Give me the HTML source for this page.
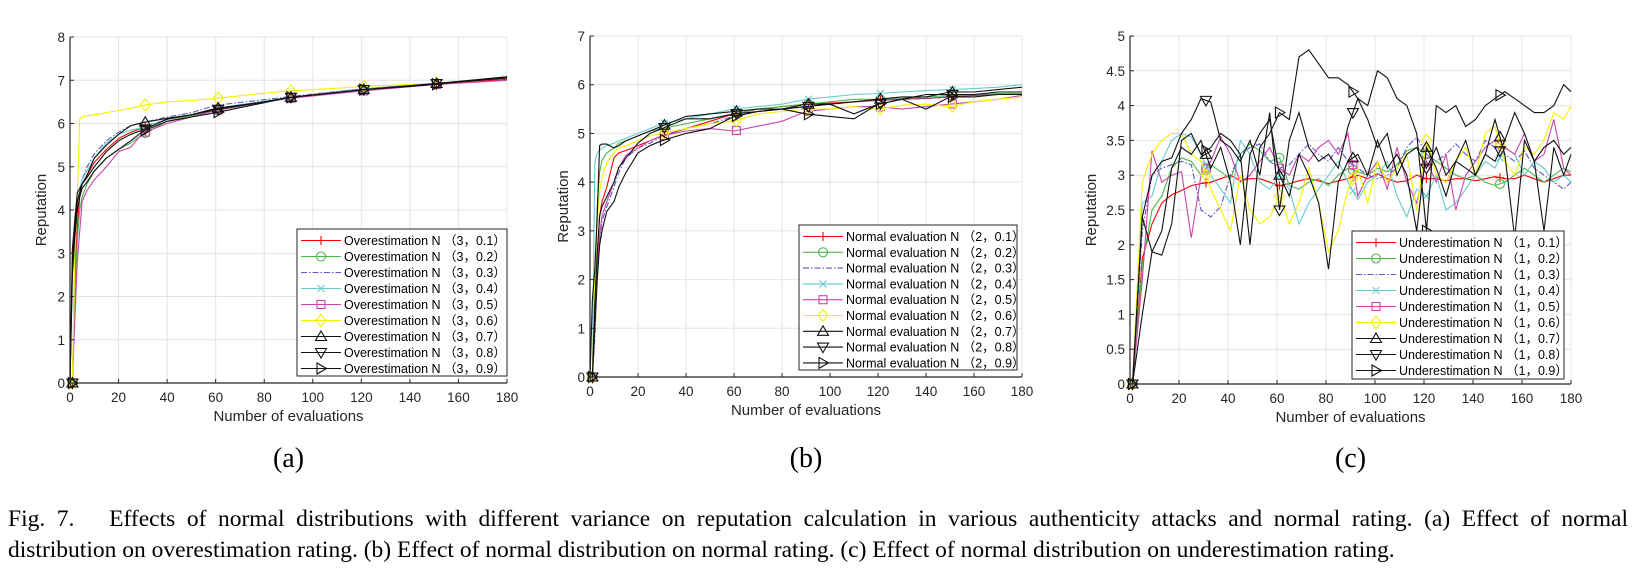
<!DOCTYPE html>
<html><head><meta charset="utf-8">
<style>
html,body{margin:0;padding:0;background:#fff;}
body{width:1644px;height:569px;position:relative;overflow:hidden;}
svg{position:absolute;left:0;top:0;}
.cap{position:absolute;left:8px;width:1620px;font-family:"Liberation Serif",serif;font-size:23.5px;color:#000;line-height:31px;white-space:nowrap;}
</style></head>
<body>
<svg id="fig" width="1644" height="569" xmlns="http://www.w3.org/2000/svg"></svg>
<div class="cap" style="top:504px;text-align:justify;text-align-last:justify;white-space:normal;">Fig. 7.&nbsp;&nbsp; Effects of normal distributions with different variance on reputation calculation in various authenticity attacks and normal rating. (a) Effect of normal</div>
<div class="cap" style="top:535px;">distribution on overestimation rating. (b) Effect of normal distribution on normal rating. (c) Effect of normal distribution on underestimation rating.</div>
<script>
// ---------- data ----------
const xTicks = [0,20,40,60,80,100,120,140,160,180];
const yTicksA = [0,1,2,3,4,5,6,7,8];
const yTicksB = [0,1,2,3,4,5,6,7];
const yTicksC = [0,0.5,1,1.5,2,2.5,3,3.5,4,4.5,5];
const markerX = [31,61,91,121,151];
const varianceLabels = ["0.1","0.2","0.3","0.4","0.5","0.6","0.7","0.8","0.9"];

const xA = [0,1,2,3,4,5,7,10,15,20,25,30,40,50,60,80,90,120,150,180];
const aS1 = [0,0,2.5,3.6,4.3,4.6,4.8,5.1,5.4,5.65,5.8,5.9,6.1,6.2,6.35,6.5,6.6,6.78,6.92,7.02];
const aS2 = [0,0,2.0,3.3,4.0,4.3,4.6,4.9,5.2,5.4,5.55,5.75,6.05,6.18,6.3,6.5,6.58,6.78,6.92,7.05];
const aS3 = [0,0,3.0,4.0,4.4,4.7,5.0,5.3,5.6,5.8,5.95,6.02,6.15,6.25,6.42,6.55,6.62,6.8,6.92,7.05];
const aS4 = [0,0,3.2,4.1,4.5,4.7,4.9,5.2,5.55,5.75,5.85,5.9,6.1,6.2,6.35,6.52,6.6,6.8,6.93,7.05];
const aS5 = [0,0,1.5,2.8,3.5,4.2,4.45,4.7,5.0,5.35,5.45,5.78,6.0,6.15,6.3,6.5,6.58,6.75,6.9,7.0];
const aS6 = [0,0,3.0,4.3,6.1,6.15,6.18,6.2,6.25,6.3,6.35,6.42,6.5,6.53,6.58,6.7,6.75,6.85,6.93,7.05];
const aS7 = [0,3.1,3.8,4.4,4.5,4.6,4.8,5.2,5.5,5.75,5.95,6.02,6.12,6.2,6.35,6.5,6.6,6.78,6.92,7.08];
const aS8 = [0,2.8,3.6,4.2,4.4,4.6,4.75,5.0,5.35,5.6,5.75,5.85,6.1,6.2,6.32,6.5,6.6,6.78,6.92,7.05];
const aS9 = [0,2.5,3.4,4.0,4.3,4.5,4.65,4.9,5.2,5.4,5.6,5.82,6.05,6.15,6.25,6.48,6.6,6.78,6.9,7.08];

const xB = [0,1,2,3,4,5,7,10,12,15,20,25,30,40,50,60,70,80,90,100,110,120,130,140,150,160,170,180];
const bS1 = [0,0,1.2,2.5,3.3,3.6,3.9,4.5,4.6,4.65,4.75,4.85,4.95,5.1,5.25,5.4,5.5,5.55,5.6,5.62,5.65,5.68,5.7,5.72,5.75,5.78,5.8,5.8];
const bS2 = [0,0,1.5,3.5,4.2,4.45,4.6,4.7,4.8,4.85,4.95,5.05,5.1,5.2,5.3,5.4,5.5,5.55,5.6,5.65,5.7,5.7,5.72,5.75,5.78,5.8,5.82,5.82];
const bS3 = [0,0,0.8,2.0,2.8,3.2,3.5,3.9,4.2,4.5,4.7,4.8,4.95,5.1,5.2,5.35,5.45,5.5,5.55,5.6,5.65,5.68,5.7,5.72,5.75,5.78,5.8,5.8];
const bS4 = [0,0,4.4,4.6,4.65,4.7,4.75,4.8,4.85,4.9,5.0,5.1,5.2,5.3,5.4,5.5,5.55,5.6,5.7,5.75,5.8,5.82,5.85,5.88,5.9,5.92,5.95,6.0];
const bS5 = [0,0,1.0,2.2,2.9,3.3,3.6,4.0,4.3,4.55,4.7,4.85,4.95,5.05,5.1,5.05,5.15,5.25,5.45,5.5,5.55,5.55,5.5,5.55,5.6,5.65,5.7,5.78];
const bS6 = [0,0,2.0,3.2,3.8,4.1,4.4,4.6,4.7,4.75,4.85,4.95,5.0,5.1,5.2,5.25,5.4,5.45,5.5,5.5,5.55,5.5,5.58,5.6,5.55,5.65,5.7,5.75];
const bS7 = [0,1.6,2.2,3.3,4.75,4.78,4.78,4.7,4.75,4.85,4.95,5.05,5.15,5.35,5.4,5.45,5.5,5.5,5.6,5.6,5.65,5.7,5.75,5.75,5.85,5.85,5.9,5.95];
const bS8 = [0,0,1.5,2.5,3.3,3.5,3.7,4.0,4.3,4.5,4.8,5.0,5.1,5.3,5.3,5.4,5.45,5.5,5.55,5.6,5.4,5.6,5.7,5.8,5.8,5.8,5.85,5.85];
const bS9 = [0,0,1.0,2.0,2.7,3.0,3.4,3.6,3.9,4.2,4.6,4.75,4.85,5.0,5.1,5.35,5.45,5.5,5.4,5.35,5.3,5.6,5.7,5.5,5.75,5.75,5.8,5.8];

const xC = [0,1,5,9,13,17,21,25,29,33,37,41,45,49,53,57,61,65,69,73,77,81,85,89,93,97,101,105,109,113,117,121,125,129,133,137,141,145,149,153,157,161,165,169,173,177,180];
const cS1 = [0,0,1.8,2.3,2.6,2.72,2.78,2.85,2.88,2.9,2.95,3.0,2.92,2.95,2.95,2.9,2.85,2.88,2.92,2.95,2.92,2.88,2.92,2.95,3.0,2.95,3.02,2.95,2.9,2.92,3.0,2.95,2.95,2.92,2.95,2.95,2.92,2.95,2.98,2.95,2.95,3.0,2.95,2.9,2.95,3.0,3.0];
const cS2 = [0,0,1.7,2.5,2.7,3.1,3.25,3.2,3.0,3.15,3.05,2.95,3.3,3.45,3.35,3.2,3.25,2.85,2.8,2.9,2.95,2.85,3.0,3.1,3.05,3.0,3.1,3.05,3.15,3.35,3.4,3.3,3.2,3.1,3.0,2.95,3.0,2.9,2.85,2.9,3.0,3.1,3.0,2.9,3.0,3.1,3.05];
const cS3 = [0,0,2.2,3.0,3.1,3.15,3.2,3.15,2.5,2.4,2.55,3.0,3.3,3.4,3.45,3.2,3.1,3.15,3.3,3.45,3.3,3.2,3.4,3.2,3.1,3.0,2.95,3.0,3.1,3.4,3.55,3.3,3.2,3.3,3.45,3.3,3.2,3.5,3.4,3.3,3.2,3.35,3.1,3.0,2.9,2.8,2.9];
const cS4 = [0,0,2.6,2.7,3.2,3.5,3.6,3.55,3.3,3.0,2.8,2.6,3.5,3.3,2.9,2.8,3.0,2.8,2.3,2.6,2.8,3.0,3.2,2.9,2.65,2.9,3.0,3.2,2.7,2.4,2.8,2.7,3.0,2.5,2.6,2.8,3.0,3.2,3.1,3.4,3.3,3.0,3.2,3.1,2.9,3.0,2.9];
const cS5 = [0,0,1.5,3.35,2.9,3.0,3.05,2.1,3.0,3.2,3.55,3.3,2.9,3.0,3.2,3.4,3.1,3.0,3.3,3.2,3.4,3.5,3.3,3.6,2.7,3.0,3.2,2.8,3.4,2.9,2.6,3.2,2.9,3.3,2.5,3.0,3.2,3.4,3.5,3.4,3.3,3.6,3.2,3.3,3.8,3.1,3.0];
const cS6 = [0,0,2.9,3.3,3.5,3.6,3.6,3.3,3.2,2.8,2.5,2.2,3.0,2.5,2.3,2.4,2.7,2.3,2.6,3.1,2.6,1.9,2.2,2.8,3.1,2.6,3.2,2.9,3.1,3.3,2.5,3.5,3.0,2.9,3.2,3.4,3.0,3.6,3.7,3.2,3.0,3.4,3.3,3.5,3.9,3.8,4.0];
const cS7 = [0,0,2.4,1.9,2.2,3.1,3.4,3.3,3.5,3.1,3.4,2.9,2.0,3.3,3.6,3.8,3.0,2.7,3.3,3.0,2.6,1.65,2.9,3.2,3.3,3.0,3.5,3.1,3.3,3.0,2.2,3.4,3.1,2.7,3.2,3.1,3.0,3.3,3.8,3.3,2.1,3.5,3.2,2.2,3.4,3.0,3.3];
const cS8 = [0,0,2.4,3.0,3.2,3.25,3.6,3.8,4.1,4.05,3.5,3.4,3.2,3.5,3.0,3.9,2.5,3.5,3.9,3.4,3.2,3.3,3.1,3.7,4.1,3.8,3.4,3.6,3.0,3.3,3.4,3.1,3.4,3.0,3.2,3.5,3.0,3.3,3.2,3.5,3.9,3.6,3.2,3.4,3.5,3.3,3.4];
const cS9 = [0,0,1.0,1.9,1.85,2.3,3.5,3.6,3.3,3.4,3.6,3.5,3.3,2.0,3.4,3.6,3.9,3.8,4.7,4.8,4.6,4.4,4.4,4.3,4.1,4.0,4.5,4.4,4.1,4.0,3.6,2.2,4.0,3.9,4.0,3.7,3.8,4.0,4.1,4.2,4.1,4.0,3.9,3.9,4.0,4.3,4.2];

// ---------- rendering ----------
const NS = "http://www.w3.org/2000/svg";
const svg = document.getElementById('fig');
const colors = ["#ff0000","#4db84d","#5a5ac8","#66cccc","#cc44aa","#f2f200","#111111","#111111","#111111"];
const markers = ["plus","circle","none","x","square","diamond","tri-up","tri-down","tri-right"];
const seriesNames = ["variance-0-1","variance-0-2","variance-0-3","variance-0-4","variance-0-5","variance-0-6","variance-0-7","variance-0-8","variance-0-9"];
const FONT = "Liberation Sans, sans-serif";

function mk(tag, attrs, parent){
  const e = document.createElementNS(NS, tag);
  for (const k in attrs) e.setAttribute(k, attrs[k]);
  (parent||svg).appendChild(e);
  return e;
}
function interp(xs, ys, x){
  const n = Math.min(xs.length, ys.length);
  for (let i=1;i<n;i++){ if (x<=xs[i]){ const t=(x-xs[i-1])/(xs[i]-xs[i-1]); return ys[i-1]+t*(ys[i]-ys[i-1]); } }
  return ys[n-1];
}
function drawMarker(g, type, cx, cy, col){
  const s=4.5; let e;
  const st={fill:"none",stroke:col,"stroke-width":1.1};
  if(type==="plus") e=mk('path',Object.assign({d:`M${cx-s} ${cy}H${cx+s}M${cx} ${cy-s}V${cy+s}`},st),g);
  else if(type==="x") e=mk('path',Object.assign({d:`M${cx-3.5} ${cy-3.5}L${cx+3.5} ${cy+3.5}M${cx-3.5} ${cy+3.5}L${cx+3.5} ${cy-3.5}`},st),g);
  else if(type==="circle") e=mk('circle',Object.assign({cx:cx,cy:cy,r:s},st),g);
  else if(type==="square") e=mk('rect',Object.assign({x:cx-s+0.5,y:cy-s+0.5,width:2*s-1,height:2*s-1},st),g);
  else if(type==="diamond") e=mk('path',Object.assign({d:`M${cx} ${cy-6}L${cx+5} ${cy}L${cx} ${cy+6}L${cx-5} ${cy}Z`},st),g);
  else if(type==="tri-up") e=mk('path',Object.assign({d:`M${cx} ${cy-5.5}L${cx+5.5} ${cy+4}L${cx-5.5} ${cy+4}Z`},st),g);
  else if(type==="tri-down") e=mk('path',Object.assign({d:`M${cx} ${cy+5.5}L${cx+5.5} ${cy-4}L${cx-5.5} ${cy-4}Z`},st),g);
  else if(type==="tri-right") e=mk('path',Object.assign({d:`M${cx+5.5} ${cy}L${cx-4} ${cy-5.5}L${cx-4} ${cy+5.5}Z`},st),g);
  if(e){
    
    
  }
}

function panel(cfg){
  const {id,x0,x1,yTop,yBot,ymax,yTicks,xs,series,label,legend,sub,ylabX} = cfg;
  const g = mk('g',{});
  
  
  const sx = v => x0 + (v/180)*(x1-x0);
  const sy = v => yBot - (v/ymax)*(yBot-yTop);
  const grid = mk('g',{stroke:"#e4e4e4","stroke-width":1},g);
  
  
  xTicks.forEach(t=>{ if(t>0) mk('line',{x1:sx(t),x2:sx(t),y1:yTop,y2:yBot},grid); });
  yTicks.forEach(t=>{ if(t>0) mk('line',{x1:x0,x2:x1,y1:sy(t),y2:sy(t)},grid); });
  series.forEach((ys,i)=>{
    const n=Math.min(xs.length,ys.length);
    let d="";
    for(let k=0;k<n;k++) d+=(k?"L":"M")+sx(xs[k]).toFixed(1)+" "+sy(ys[k]).toFixed(1);
    const p = mk('path',{d:d,fill:"none",stroke:colors[i],"stroke-width":1.1,"stroke-dasharray":i===2?"6 2 1.5 2":"none"},g);
    
    
    if(markers[i]!=="none") markerX.forEach(mx=>drawMarker(g,markers[i],sx(mx),sy(interp(xs,ys,mx)),colors[i]));
    drawMarker(g,markers[i]==="none"?"circle":markers[i],sx(1),sy(0),colors[i]);
  });
  const ax = mk('path',{d:`M${x0} ${yTop}V${yBot}H${x1}`,fill:"none",stroke:"#262626","stroke-width":1.2},g);
  
  
  xTicks.forEach(t=>{
    mk('line',{x1:sx(t),x2:sx(t),y1:yBot,y2:yBot-4,stroke:"#262626"},g);
    const tx = mk('text',{x:sx(t),y:yBot+19,"text-anchor":"middle","font-size":13.5,fill:"#262626","font-family":FONT},g);
    tx.textContent=t;
    
    
  });
  yTicks.forEach(t=>{
    mk('line',{x1:x0,x2:x0+4,y1:sy(t),y2:sy(t),stroke:"#262626"},g);
    const tx = mk('text',{x:x0-5,y:sy(t)+5,"text-anchor":"end","font-size":13.5,fill:"#262626","font-family":FONT},g);
    tx.textContent=t;
    
    
  });
  const xt = mk('text',{x:(x0+x1)/2,y:yBot+38,"text-anchor":"middle","font-size":15,fill:"#262626","font-family":FONT},g);
  xt.textContent="Number of evaluations";
  
  
  const yc=(yTop+yBot)/2;
  const yt = mk('text',{x:ylabX,y:yc,"text-anchor":"middle","font-size":15,fill:"#262626","font-family":FONT,transform:`rotate(-90 ${ylabX} ${yc})`},g);
  yt.textContent="Reputation";
  
  
  const L = legend;
  const lg = mk('g',{},g);
  
  
  mk('rect',{x:L.x,y:L.y,width:L.w,height:L.h,fill:"#fff",stroke:"#262626","stroke-width":1},lg);
  for(let i=0;i<9;i++){
    const cy=L.y+11.5+i*L.step;
    const ent = mk('g',{},lg);
    
    
    mk('line',{x1:L.x+4,x2:L.x+44,y1:cy,y2:cy,stroke:colors[i],"stroke-width":1.1,"stroke-dasharray":i===2?"6 2 1.5 2":"none"},ent);
    if(markers[i]!=="none") drawMarker(ent,markers[i],L.x+24,cy,colors[i]);
    const t=mk('text',{x:L.x+47,y:cy+4.5,"font-size":12.5,fill:"#000","font-family":"Liberation Sans, Noto Sans CJK SC, sans-serif"},ent);
    t.textContent=label+"（"+cfg.mean+"，"+varianceLabels[i]+"）";
  }
  const st = mk('text',{x:(x0+x1)/2,y:467,"text-anchor":"middle","font-size":28,fill:"#000","font-family":"Liberation Serif, serif"},g);
  st.textContent=sub;
  
  
}

panel({id:"panel-a-overestimation",x0:70,x1:507,yTop:37,yBot:383,ymax:8,yTicks:yTicksA,xs:xA,
  series:[aS1,aS2,aS3,aS4,aS5,aS6,aS7,aS8,aS9],label:"Overestimation N ",mean:"3",
  legend:{x:297,y:229,w:210,h:147,step:16},sub:"(a)",ylabX:46});
panel({id:"panel-b-normal",x0:590,x1:1022,yTop:36,yBot:377,ymax:7,yTicks:yTicksB,xs:xB,
  series:[bS1,bS2,bS3,bS4,bS5,bS6,bS7,bS8,bS9],label:"Normal evaluation N ",mean:"2",
  legend:{x:799,y:225,w:218,h:145,step:15.8},sub:"(b)",ylabX:568});
panel({id:"panel-c-underestimation",x0:1130,x1:1571,yTop:36,yBot:384,ymax:5,yTicks:yTicksC,xs:xC,
  series:[cS1,cS2,cS3,cS4,cS5,cS6,cS7,cS8,cS9],label:"Underestimation N ",mean:"1",
  legend:{x:1352,y:231,w:212,h:148,step:16},sub:"(c)",ylabX:1096});
</script>
</body></html>
